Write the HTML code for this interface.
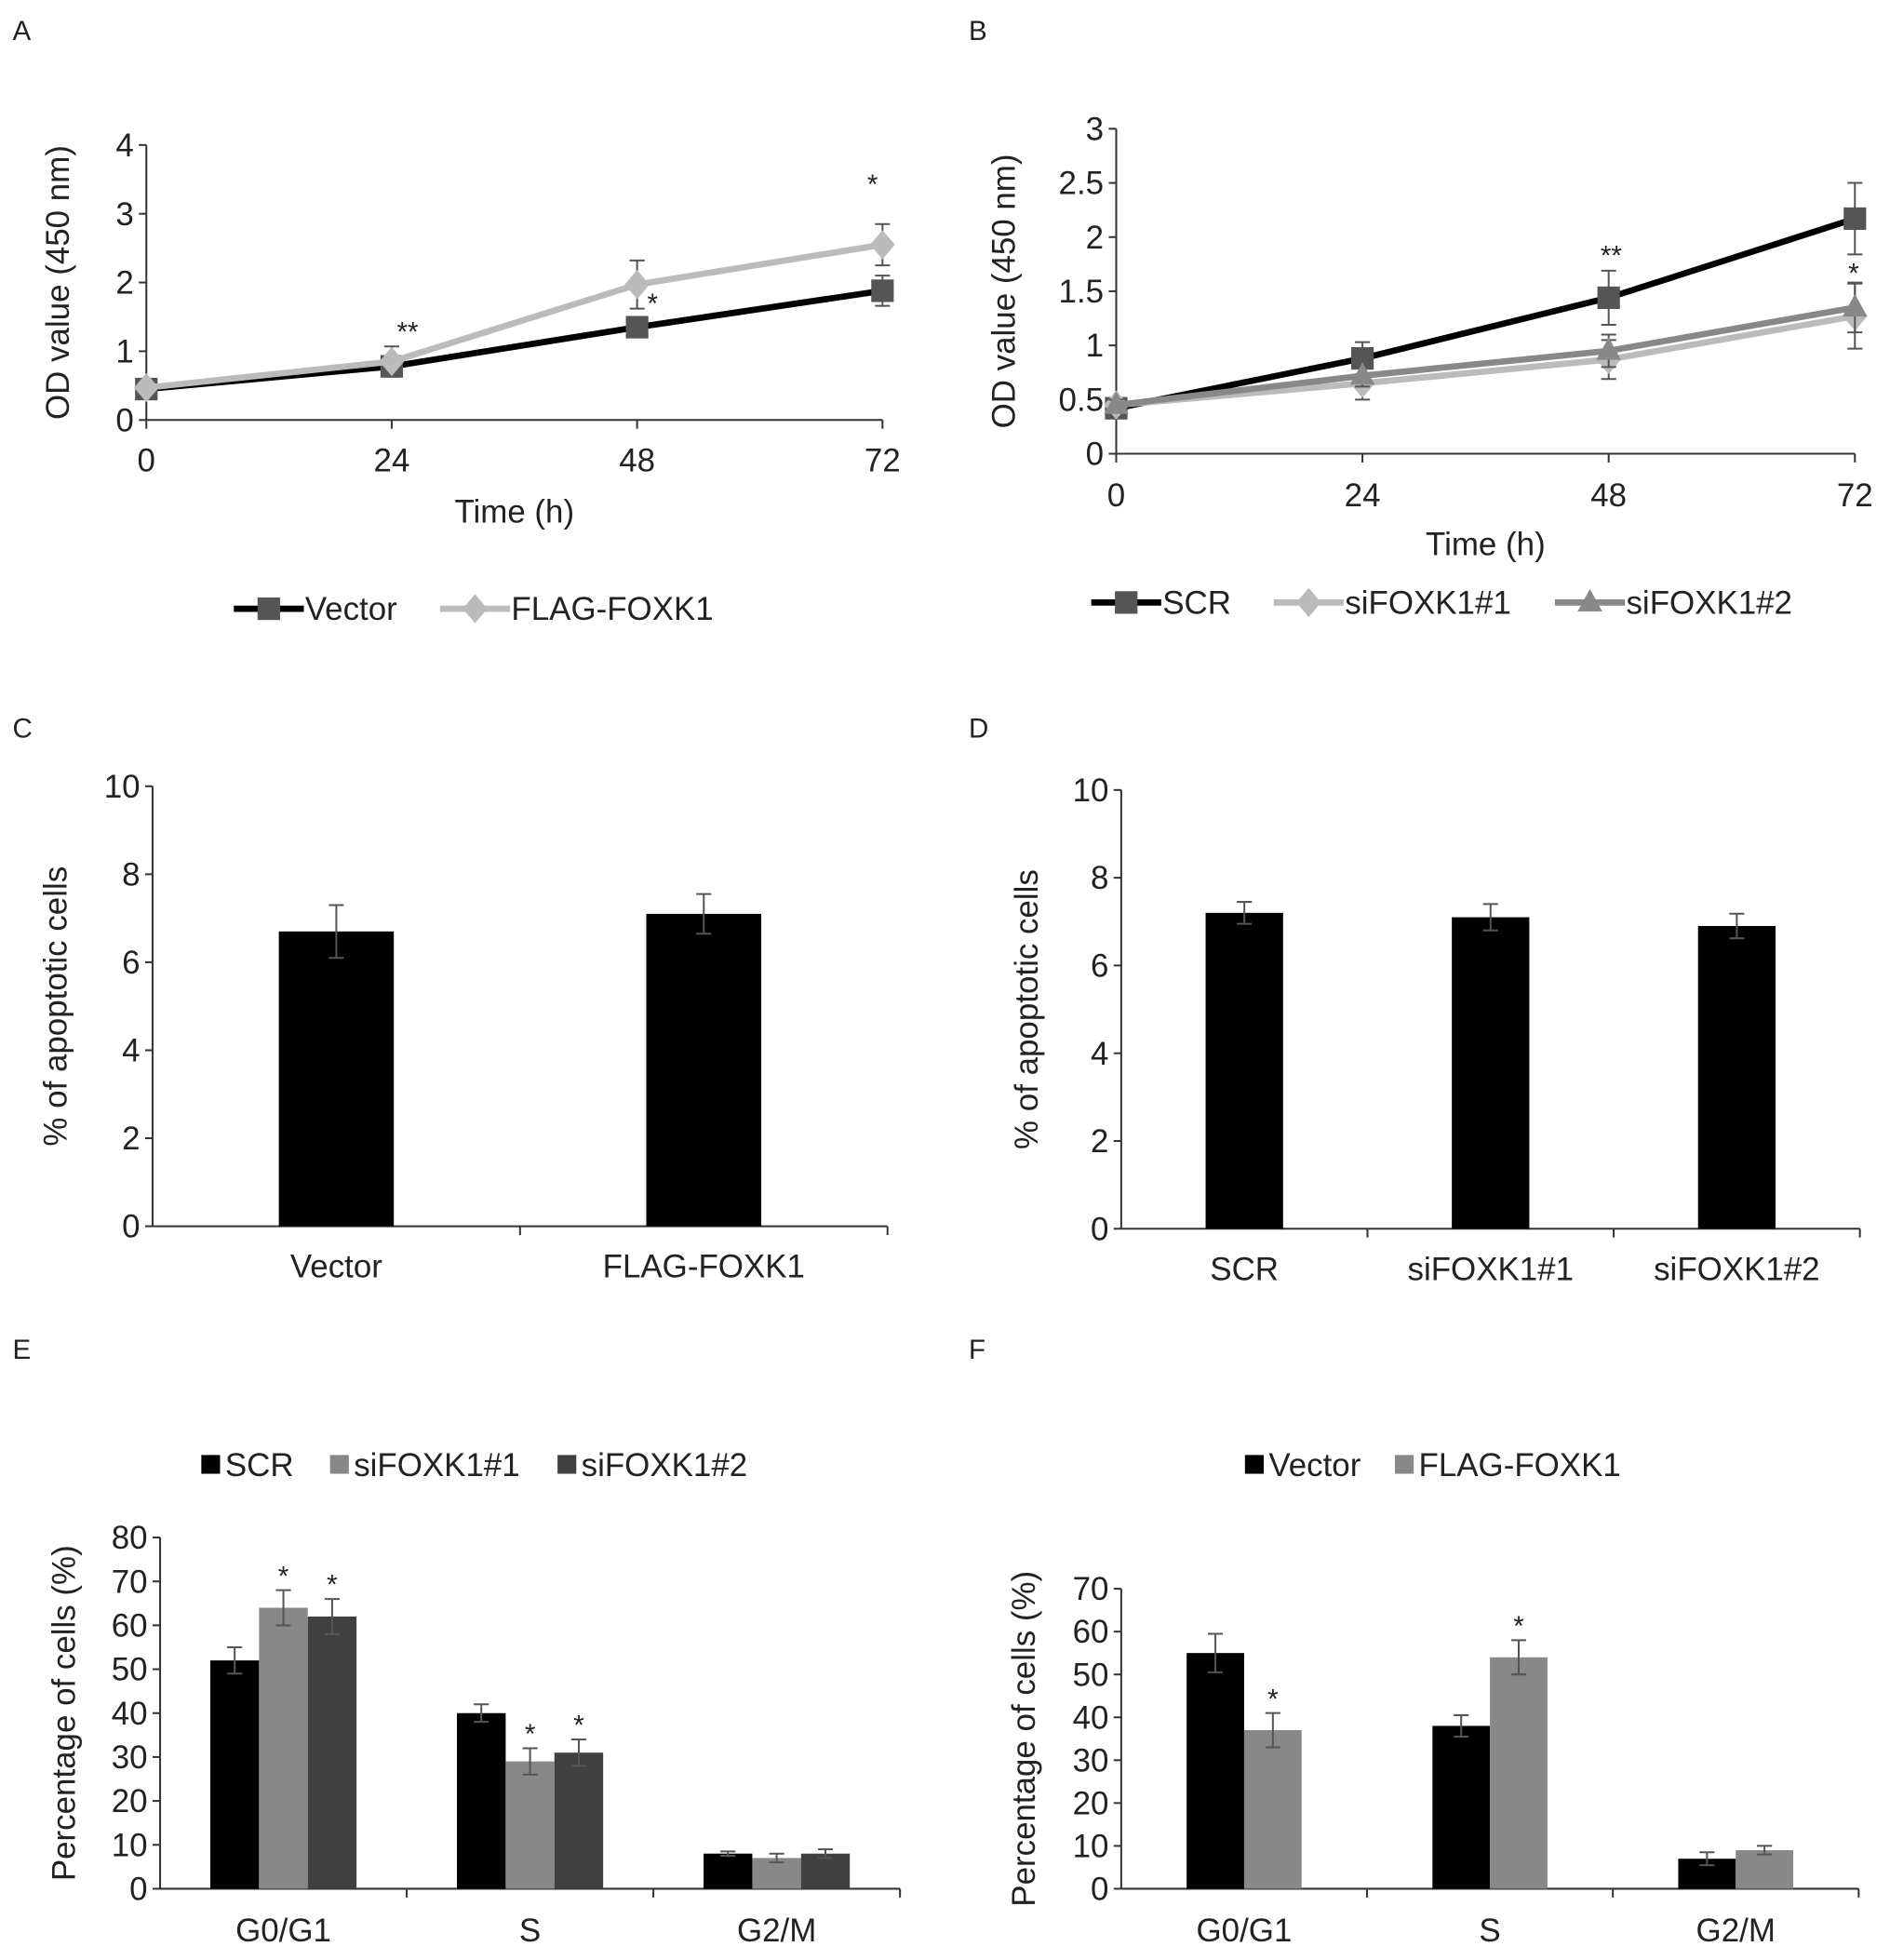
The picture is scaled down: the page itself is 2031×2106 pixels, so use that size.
<!DOCTYPE html>
<html><head><meta charset="utf-8"><style>
html,body{margin:0;padding:0;background:#fff;}
svg{display:block;font-family:"Liberation Sans",Arial,sans-serif;}
</style></head><body>
<svg id="fig" width="2031" height="2106" viewBox="0 0 1512 1568" xmlns="http://www.w3.org/2000/svg"></svg>
<script>
// ---- Panel A data ----
const aTimes=[0,24,48,72];
const aVector=[0.45,0.78,1.35,1.88];
const aVectorErr=[0.05,0.06,0.1,0.22];
const aFlag=[0.47,0.85,1.97,2.55];
const aFlagErr=[0.05,0.22,0.35,0.3];
const aYTicks=[0,1,2,3,4];
// ---- Panel B data ----
const bTimes=[0,24,48,72];
const bSCR=[0.42,0.88,1.44,2.17];
const bSCRErr=[0.08,0.15,0.25,0.33];
const bSi1=[0.45,0.65,0.87,1.27];
const bSi1Err=[0.05,0.15,0.18,0.3];
const bSi2=[0.45,0.72,0.95,1.35];
const bSi2Err=[0.05,0.1,0.15,0.23];
const bYTicks=[0,0.5,1,1.5,2,2.5,3];
// ---- Panel C data ----
const cCats=["Vector","FLAG-FOXK1"];
const cVals=[6.7,7.1];
const cErr=[0.6,0.45];
// ---- Panel D data ----
const dCats=["SCR","siFOXK1#1","siFOXK1#2"];
const dVals=[7.2,7.1,6.9];
const dErr=[0.25,0.3,0.28];
const cdYTicks=[0,2,4,6,8,10];
// ---- Panel E data ----
const eCats=["G0/G1","S","G2/M"];
const eSCR=[52,40,8];
const eSCRErr=[3,2,0.5];
const eSi1=[64,29,7];
const eSi1Err=[4,3,1];
const eSi2=[62,31,8];
const eSi2Err=[4,3,1];
const eYTicks=[0,10,20,30,40,50,60,70,80];
// ---- Panel F data ----
const fCats=["G0/G1","S","G2/M"];
const fVector=[55,38,7];
const fVectorErr=[4.5,2.5,1.5];
const fFlag=[37,54,9];
const fFlagErr=[4,4,1];
const fYTicks=[0,10,20,30,40,50,60,70];

const FS=26;
const svg=document.getElementById('fig');
const NS='http://www.w3.org/2000/svg';
function el(tag,attrs,parent){const e=document.createElementNS(NS,tag);for(const k in attrs)e.setAttribute(k,attrs[k]);(parent||svg).appendChild(e);return e;}
function txt(x,y,s,size,anchor,parent,extra){const t=el('text',Object.assign({x:x,y:y,'font-size':size,'text-anchor':anchor||'middle',fill:'#222'},extra||{}),parent);t.textContent=s;return t;}
function grp(name){const g=el('g',{});return g;}

function axes(g,x0,x1,y0,yTop,ticks,ymax,label,labelX,fmt){
  const sy=v=>y0-(v/ymax)*(y0-yTop);
  const ya=el('line',{x1:x0,y1:y0,x2:x0,y2:yTop,stroke:'#333','stroke-width':1.5},g);
  
  const xa=el('line',{x1:x0,y1:y0,x2:x1,y2:y0,stroke:'#333','stroke-width':1.5},g);
  
  ticks.forEach(v=>{el('line',{x1:x0-6,x2:x0,y1:sy(v),y2:sy(v),stroke:'#333','stroke-width':1.5},g);
    const t=txt(x0-10,sy(v)+9,fmt?fmt(v):String(v),FS,'end',g);
    });
  const yl=txt(0,0,label,FS,'middle',g,{transform:'translate('+labelX+','+((y0+yTop)/2)+') rotate(-90)'});
  
  return sy;
}
function errbar(g,x,yc,ylo,yhi,color){
  el('line',{x1:x,x2:x,y1:ylo,y2:yhi,stroke:color,'stroke-width':1.5},g);
  el('line',{x1:x-6,x2:x+6,y1:ylo,y2:ylo,stroke:color,'stroke-width':1.5},g);
  el('line',{x1:x-6,x2:x+6,y1:yhi,y2:yhi,stroke:color,'stroke-width':1.5},g);
}
function marker(g,type,x,y,color,s){
  if(type==='sq')return el('rect',{x:x-s,y:y-s,width:2*s,height:2*s,fill:color},g);
  if(type==='di')return el('polygon',{points:`${x},${y-s*1.3} ${x+s*1.1},${y} ${x},${y+s*1.3} ${x-s*1.1},${y}`,fill:color},g);
  return el('polygon',{points:`${x},${y-s*1.2} ${x+s*1.1},${y+s*0.8} ${x-s*1.1},${y+s*0.8}`,fill:color},g);
}
function letter(x,y,s){const t=txt(x,y,s,22,'start');}
letter(10,32,'A');letter(775,32,'B');letter(10,590,'C');letter(775,590,'D');letter(10,1087,'E');letter(775,1087,'F');

function lineChart(name,x0,x1,y0,yTop,ymax,ticks,times,series,tickY,titleY,labelX,fmt){
  const g=grp(name);
  const sy=axes(g,x0,x1,y0,yTop,ticks,ymax,'OD value (450 nm)',labelX,fmt);
  const sx=t=>x0+(t/72)*(x1-x0);
  times.forEach(t=>{el('line',{x1:sx(t),x2:sx(t),y1:y0,y2:y0+7,stroke:'#333','stroke-width':1.5},g);
    const l=txt(sx(t),tickY,String(t),FS,'middle',g);});
  const tt=txt((x0+x1)/2,titleY,'Time (h)',FS,'middle',g);
  series.forEach(s=>{
    const sg=el('g',{},g);
    times.forEach((t,i)=>errbar(sg,sx(t),sy(s.v[i]),sy(s.v[i]-s.e[i]),sy(s.v[i]+s.e[i]),s.ebColor));
    const pl=el('polyline',{points:times.map((t,i)=>sx(t)+','+sy(s.v[i])).join(' '),fill:'none',stroke:s.line,'stroke-width':s.w},sg);
    
    times.forEach((t,i)=>{const m=marker(sg,s.m,sx(t),sy(s.v[i]),s.mc,9);});
  });
  return {g,sx,sy};
}
const A=lineChart('panel-a-chart',117,706,336,116,4,aYTicks,aTimes,[
 {key:'vector',v:aVector,e:aVectorErr,line:'#000',w:5,m:'sq',mc:'#555',ebColor:'#555'},
 {key:'flag-foxk1',v:aFlag,e:aFlagErr,line:'#bbb',w:5,m:'di',mc:'#bbb',ebColor:'#555'}],377,418,55);
txt(326,273,'**',22,'middle',A.g);txt(522,250,'*',22,'middle',A.g);txt(698,155,'*',22,'middle',A.g);
const B=lineChart('panel-b-chart',893,1484,363,103,3,bYTicks,bTimes,[
 {key:'scr',v:bSCR,e:bSCRErr,line:'#000',w:5,m:'sq',mc:'#555',ebColor:'#555'},
 {key:'sifoxk1-1',v:bSi1,e:bSi1Err,line:'#bbb',w:5,m:'di',mc:'#bbb',ebColor:'#555'},
 {key:'sifoxk1-2',v:bSi2,e:bSi2Err,line:'#888',w:5,m:'tr',mc:'#888',ebColor:'#555'}],405,444,812);
txt(1289,212,'**',22,'middle',B.g);txt(1483,226,'*',22,'middle',B.g);

function lineLegend(name,items,y){
  const g=grp(name);
  items.forEach(it=>{
    const lg=el('g',{},g);
    el('line',{x1:it.x,x2:it.x+56,y1:y,y2:y,stroke:it.line,'stroke-width':5},lg);
    marker(lg,it.m,it.x+28,y,it.mc,9);
    txt(it.x+57,y+9,it.label,FS,'start',lg);
  });
}
lineLegend('legend-a',[{x:187,label:'Vector',line:'#000',m:'sq',mc:'#555'},{x:352,label:'FLAG-FOXK1',line:'#bbb',m:'di',mc:'#bbb'}],487);
lineLegend('legend-b',[{x:873,label:'SCR',line:'#000',m:'sq',mc:'#555'},{x:1019,label:'siFOXK1#1',line:'#bbb',m:'di',mc:'#bbb'},{x:1244,label:'siFOXK1#2',line:'#888',m:'tr',mc:'#888'}],482);

function barChart(name,x0,x1,y0,yTop,ymax,ticks,cats,series,barW,label,labelX,tickLabY){
  const g=grp(name);
  const sy=axes(g,x0,x1,y0,yTop,ticks,ymax,label,labelX);
  const n=cats.length,step=(x1-x0)/n;
  const cx=i=>x0+step*(i+0.5);
  for(let i=1;i<n;i++)el('line',{x1:x0+step*i,x2:x0+step*i,y1:y0,y2:y0+7,stroke:'#333','stroke-width':1.5},g);
  el('line',{x1:x1,x2:x1,y1:y0,y2:y0+7,stroke:'#333','stroke-width':1.5},g);
  cats.forEach((c,i)=>{const t=txt(cx(i),tickLabY,c,FS,'middle',g);});
  const ns=series.length;
  series.forEach((s,k)=>{
    s.v.forEach((v,i)=>{
      const x=cx(i)+(k-(ns-1)/2)*barW;
      const r=el('rect',{x:x-barW/2,y:sy(v),width:barW,height:y0-sy(v),fill:s.c},g);
      
      errbar(g,x,sy(v),sy(v-s.e[i]),sy(v+s.e[i]),'#555');
      if(s.star&&s.star[i])txt(x,sy(v+s.e[i])-4,'*',22,'middle',g);
    });
  });
  return g;
}
barChart('panel-c-chart',122,710,981,629,10,cdYTicks,cCats,[{key:'c',v:cVals,e:cErr,c:'#000'}],92,'% of apoptotic cells',53,1022);
barChart('panel-d-chart',897,1488,983,632,10,cdYTicks,dCats,[{key:'d',v:dVals,e:dErr,c:'#000'}],62,'% of apoptotic cells',830,1024);
barChart('panel-e-chart',128,720,1511,1230,80,eYTicks,eCats,[
 {key:'scr',v:eSCR,e:eSCRErr,c:'#000',star:[0,0,0]},
 {key:'sifoxk1-1',v:eSi1,e:eSi1Err,c:'#888',star:[1,1,0]},
 {key:'sifoxk1-2',v:eSi2,e:eSi2Err,c:'#404040',star:[1,1,0]}],39,'Percentage of cells (%)',60,1553);
barChart('panel-f-chart',897,1487,1511,1271,70,fYTicks,fCats,[
 {key:'vector',v:fVector,e:fVectorErr,c:'#000',star:[0,0,0]},
 {key:'flag-foxk1',v:fFlag,e:fFlagErr,c:'#888',star:[1,1,0]}],46,'Percentage of cells (%)',828,1553);

function barLegend(name,items,y){
  const g=grp(name);
  items.forEach(it=>{const lg=el('g',{},g);
    el('rect',{x:it.x,y:y-8,width:15,height:15,fill:it.c},lg);txt(it.x+19,y+9,it.label,FS,'start',lg);});
}
barLegend('legend-e',[{x:161,label:'SCR',c:'#000'},{x:264,label:'siFOXK1#1',c:'#888'},{x:446,label:'siFOXK1#2',c:'#404040'}],1172);
barLegend('legend-f',[{x:996,label:'Vector',c:'#000'},{x:1116,label:'FLAG-FOXK1',c:'#888'}],1172);
</script>
</body></html>
